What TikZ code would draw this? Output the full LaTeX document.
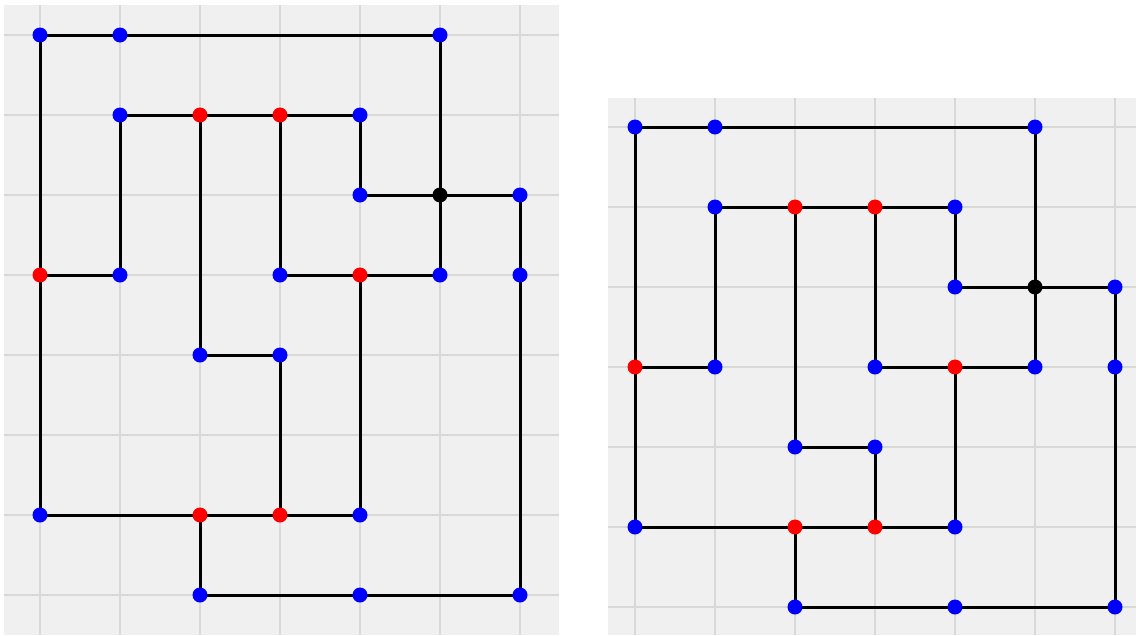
\documentclass[tikz,border=0pt]{standalone}
\pgfdeclarelayer{bglayer}
\pgfdeclarelayer{edgelayer}
\pgfsetlayers{bglayer,edgelayer,main}
\definecolor{panelbg}{HTML}{F0F0F0}
\definecolor{gridc}{HTML}{D8D8D8}
\definecolor{dotblue}{HTML}{0000FF}
\definecolor{dotred}{HTML}{FF0000}
\tikzset{
  dot/.style={circle,inner sep=0pt,minimum size=15pt,draw=none},
  bdot/.style={dot,fill=dotblue},
  rdot/.style={dot,fill=dotred},
  kdot/.style={dot,fill=black},
  edge/.style={line width=3pt,black},
  gridline/.style={gridc,line width=2pt}
}
\begin{document}
\begin{tikzpicture}[x=1pt,y=-1pt]
\useasboundingbox (0,0) rectangle (1136,635);
\begin{pgfonlayer}{bglayer}
  \fill[panelbg] (4,5) rectangle (559,635);
  \fill[panelbg] (608,98) rectangle (1136,635);
  \foreach \x in {40,120,...,520} \draw[gridline] (\x,5) -- (\x,635);
  \foreach \y in {35,115,...,595} \draw[gridline] (4,\y) -- (559,\y);
  \foreach \x in {635,715,...,1115} \draw[gridline] (\x,98) -- (\x,635);
  \foreach \y in {127,207,...,607} \draw[gridline] (608,\y) -- (1136,\y);
\end{pgfonlayer}
\foreach \p/\ox/\oy/\sh in {L/40/35/0,R/635/127/1}{
  \foreach \c/\r/\s in {0/0/bdot,1/0/bdot,5/0/bdot,
      1/1/bdot,2/1/rdot,3/1/rdot,4/1/bdot,
      4/2/bdot,5/2/kdot,6/2/bdot,
      0/3/rdot,1/3/bdot,3/3/bdot,4/3/rdot,5/3/bdot,6/3/bdot,
      2/4/bdot,3/4/bdot,
      0/6/bdot,2/6/rdot,3/6/rdot,4/6/bdot,
      2/7/bdot,4/7/bdot,6/7/bdot}{
    \pgfmathsetmacro\xx{\ox+80*\c}
    \pgfmathsetmacro\yy{\oy+80*(\r-(\r>5)*\sh)}
    \node[\s] (\p\c\r) at (\xx,\yy) {};
  }
  \begin{pgfonlayer}{edgelayer}
    \foreach \a/\b in {00/10,10/50,00/03,03/06,50/52,52/53,
        11/21,21/31,31/41,11/13,21/24,31/33,41/42,
        42/52,52/62,62/63,63/67,03/13,33/43,43/53,43/46,
        24/34,34/36,06/26,26/36,36/46,26/27,27/47,47/67}
      \draw[edge] (\p\a.center) -- (\p\b.center);
  \end{pgfonlayer}
}
\end{tikzpicture}
\end{document}
